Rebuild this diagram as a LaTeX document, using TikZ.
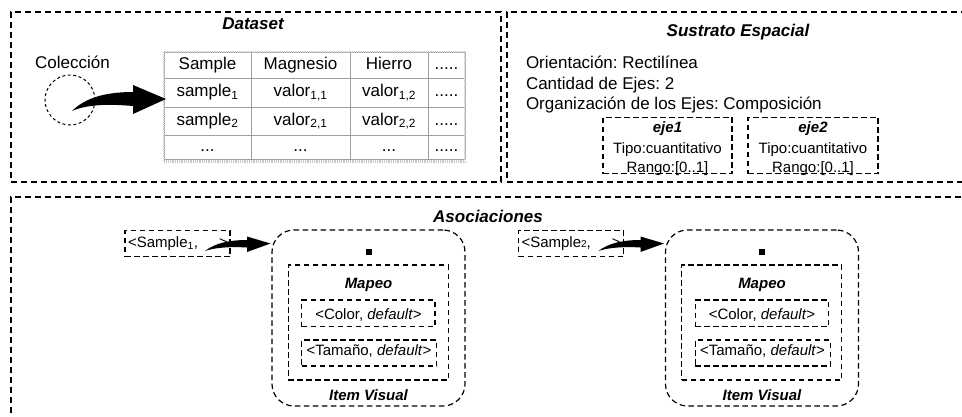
\documentclass[tikz,border=0pt]{standalone}
\usepackage{fontspec}
\setmainfont{Liberation Sans}
\frenchspacing
\newcommand\myfs[1]{\fontsize{#1}{#1}\selectfont}
\begin{document}
\begin{tikzpicture}[x=1pt,y=-1pt,
  dbox/.style={draw, line width=1.3pt, dash pattern=on 6pt off 4pt, inner sep=0pt, outer sep=0pt, anchor=north west},
  sbox/.style={draw, line width=1.2pt, dash pattern=on 5.5pt off 3.5pt, inner sep=0pt, outer sep=0pt, anchor=north west},
  ibox/.style={sbox, rounded corners=22pt},
  cell/.style={draw=gray!75, line width=0.9pt, inner sep=0pt, outer sep=0pt, anchor=north west,
    font=\myfs{17}, text height=12pt, text depth=4pt},
  w1/.style={minimum width=87pt}, w2/.style={minimum width=99pt},
  w3/.style={minimum width=78pt}, w4/.style={minimum width=37pt},
  h1/.style={minimum height=26pt}, h2/.style={minimum height=29pt},
  h3/.style={minimum height=28pt}, h4/.style={minimum height=24pt},
  ttl/.style={inner sep=0pt, outer sep=0pt, anchor=base, font=\myfs{17}\bfseries\itshape},
  ttls/.style={inner sep=0pt, outer sep=0pt, anchor=base, font=\myfs{15}\bfseries\itshape},
  ltxt/.style={inner sep=0pt, outer sep=0pt, anchor=base west, font=\myfs{17}},
  ctxt/.style={inner sep=0pt, outer sep=0pt, anchor=base, font=\myfs{15}},
  smallarrow/.pic={\fill (0,0) .. controls (10,-8) and (25,-11) .. (42,-11) -- (42,-14.5) -- (65.5,-7.5)
      -- (42,1) -- (42,-3.5) .. controls (25,-4.5) and (10,-3.5) .. (0,0) -- cycle;}
]
\useasboundingbox (0,0) rectangle (962,416);
\clip (0,0) rectangle (962,416);

% ---------------- Dataset ----------------
\node[dbox, minimum width=490pt, minimum height=170pt] (dataset) at (11,12) {};
\node[ttl] (dstitle) at (253,29.3) {Dataset};
\node[ltxt, anchor=base] (colec) at (72.5,68.3) {Colección};
\node[circle, draw, minimum size=50pt, inner sep=0pt, line width=1pt, dash pattern=on 3pt off 2.5pt] (circ) at (70,100) {};

% table cells
\node[cell,w1,h1] (c11) at (164,52) {Sample};
\node[cell,w2,h1] (c12) at (251,52) {Magnesio};
\node[cell,w3,h1] (c13) at (350,52) {Hierro};
\node[cell,w4,h1] (c14) at (428,52) {.....};
\node[cell,w1,h2] (c21) at (164,78) {sample\textsubscript{1}};
\node[cell,w2,h2] (c22) at (251,78) {valor\textsubscript{1,1}};
\node[cell,w3,h2] (c23) at (350,78) {valor\textsubscript{1,2}};
\node[cell,w4,h2] (c24) at (428,78) {.....};
\node[cell,w1,h3] (c31) at (164,107) {sample\textsubscript{2}};
\node[cell,w2,h3] (c32) at (251,107) {valor\textsubscript{2,1}};
\node[cell,w3,h3] (c33) at (350,107) {valor\textsubscript{2,2}};
\node[cell,w4,h3] (c34) at (428,107) {.....};
\node[cell,w1,h4] (c41) at (164,135) {...};
\node[cell,w2,h4] (c42) at (251,135) {...};
\node[cell,w3,h4] (c43) at (350,135) {...};
\node[cell,w4,h4] (c44) at (428,135) {.....};
\draw[gray!45, line width=2.4pt, dash pattern=on 1pt off 0.8pt]
  (c11.north west) rectangle ([yshift=-2.5pt]c44.south east);

% big curved arrow
\fill (72,111) .. controls (85,98) and (105,92) .. (133,92) -- (133,85) -- (166,99)
  -- (133,114) -- (133,106) .. controls (110,104) and (88,104) .. (72,111) -- cycle;

% ---------------- Sustrato Espacial ----------------
\node[dbox, minimum width=470pt, minimum height=170pt] (sust) at (507,12) {};
\node[ttl] (sttitle) at (738,36) {Sustrato Espacial};
\node[ltxt] (orient) at (526,68.5) {Orientación: Rectilínea};
\node[ltxt] (cant) at (526,89.3) {Cantidad de Ejes: 2};
\node[ltxt] (org) at (526,109.5) {Organización de los Ejes: Composición};
\node[sbox, minimum width=129pt, minimum height=56.5pt] (eje1) at (603,117.3) {};
\node[sbox, minimum width=130pt, minimum height=56.5pt] (eje2) at (748,117.3) {};
\node[ttls] (e1t) at (667.5,132) {eje1};
\node[ctxt] (e1a) at (667.5,153) {Tipo:cuantitativo};
\node[ctxt] (e1b) at (667.5,172) {Rango:[0..1]};
\node[ttls] (e2t) at (813,132) {eje2};
\node[ctxt] (e2a) at (813,153) {Tipo:cuantitativo};
\node[ctxt] (e2b) at (813,172) {Rango:[0..1]};

% ---------------- Asociaciones ----------------
\node[dbox, minimum width=970pt, minimum height=240pt] (asoc) at (11,197) {};
\node[ttl] (astitle) at (488,222.5) {Asociaciones};

\foreach \i/\dx/\lab in {1/0/{<Sample\textsubscript{1},}, 2/393.5/{<Sample{\myfs{10}2},}} {
  \begin{scope}[xshift=\dx pt]
    \node[sbox, minimum width=105pt, minimum height=26pt] (s\i) at (125,230.7) {};
    \node[ltxt, font=\myfs{15}] (st\i) at (128,247.5) {\lab\hspace{21pt}>};
    \node[ibox, minimum width=193pt, minimum height=176pt] (iv\i) at (272,230) {};
    \node[fill, minimum size=6pt, inner sep=0pt] (sq\i) at (368.5,251.7) {};
    \node[sbox, minimum width=160pt, minimum height=115pt] (map\i) at (288.3,265) {};
    \node[ttls] (mt\i) at (368.5,288) {Mapeo};
    \node[sbox, minimum width=133.3pt, minimum height=26.7pt] (col\i) at (301.7,300) {};
    \node[ctxt] (colt\i) at (368.5,319) {<Color, \textit{default}>};
    \node[sbox, minimum width=135pt, minimum height=26pt] (tam\i) at (301.7,340) {};
    \node[ctxt] (tamt\i) at (369,355.7) {<Tamaño, \textit{default}>};
    \node[ttls] (ivt\i) at (368.5,400) {Item Visual};
    \pic at (205,251) {smallarrow};
  \end{scope}
}
\end{tikzpicture}
\end{document}
